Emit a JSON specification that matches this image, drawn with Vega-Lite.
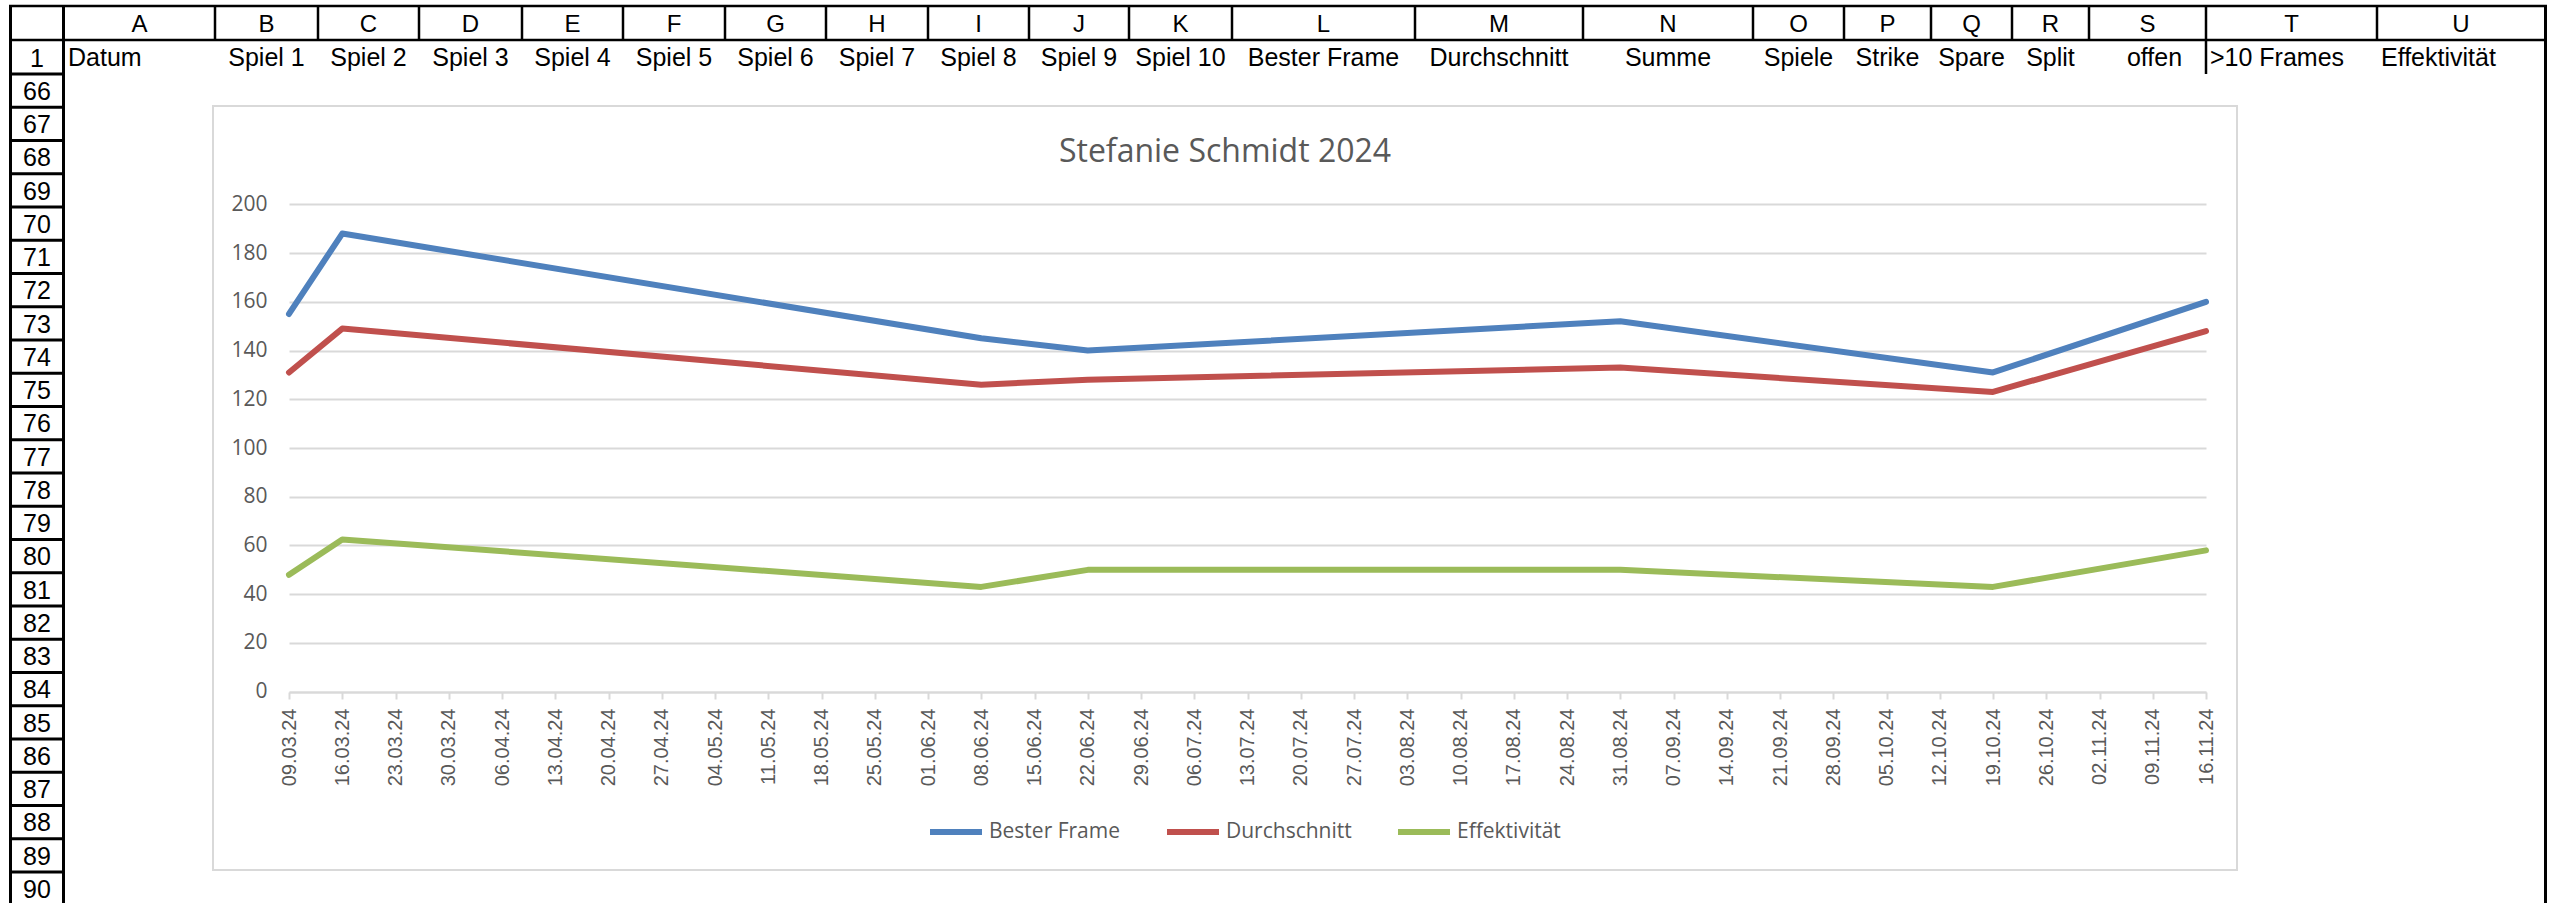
{
  "$schema": "https://vega.github.io/schema/vega-lite/v6.json",
  "width": 2565,
  "height": 903,
  "autosize": {"type": "none"},
  "padding": 0,
  "background": "white",
  "config": {"view": {"stroke": null}},
  "datasets": {
    "frame": [
      {"x0": 10.5, "x1": 10.5, "y0": 5, "y1": 903},
      {"x0": 63.5, "x1": 63.5, "y0": 5, "y1": 903},
      {"x0": 2545.5, "x1": 2545.5, "y0": 5, "y1": 903},
      {"x0": 9, "x1": 65, "y0": 74, "y1": 74},
      {"x0": 9, "x1": 65, "y0": 107.25, "y1": 107.25},
      {"x0": 9, "x1": 65, "y0": 140.5, "y1": 140.5},
      {"x0": 9, "x1": 65, "y0": 173.75, "y1": 173.75},
      {"x0": 9, "x1": 65, "y0": 207, "y1": 207},
      {"x0": 9, "x1": 65, "y0": 240.25, "y1": 240.25},
      {"x0": 9, "x1": 65, "y0": 273.5, "y1": 273.5},
      {"x0": 9, "x1": 65, "y0": 306.75, "y1": 306.75},
      {"x0": 9, "x1": 65, "y0": 340, "y1": 340},
      {"x0": 9, "x1": 65, "y0": 373.25, "y1": 373.25},
      {"x0": 9, "x1": 65, "y0": 406.5, "y1": 406.5},
      {"x0": 9, "x1": 65, "y0": 439.75, "y1": 439.75},
      {"x0": 9, "x1": 65, "y0": 473, "y1": 473},
      {"x0": 9, "x1": 65, "y0": 506.25, "y1": 506.25},
      {"x0": 9, "x1": 65, "y0": 539.5, "y1": 539.5},
      {"x0": 9, "x1": 65, "y0": 572.75, "y1": 572.75},
      {"x0": 9, "x1": 65, "y0": 606, "y1": 606},
      {"x0": 9, "x1": 65, "y0": 639.25, "y1": 639.25},
      {"x0": 9, "x1": 65, "y0": 672.5, "y1": 672.5},
      {"x0": 9, "x1": 65, "y0": 705.75, "y1": 705.75},
      {"x0": 9, "x1": 65, "y0": 739, "y1": 739},
      {"x0": 9, "x1": 65, "y0": 772.25, "y1": 772.25},
      {"x0": 9, "x1": 65, "y0": 805.5, "y1": 805.5},
      {"x0": 9, "x1": 65, "y0": 838.75, "y1": 838.75},
      {"x0": 9, "x1": 65, "y0": 872, "y1": 872}
    ],
    "cellLines": [
      {"x0": 9, "x1": 2547, "y0": 6, "y1": 6},
      {"x0": 9, "x1": 2547, "y0": 40, "y1": 40},
      {"x0": 215, "x1": 215, "y0": 5, "y1": 40},
      {"x0": 318, "x1": 318, "y0": 5, "y1": 40},
      {"x0": 419, "x1": 419, "y0": 5, "y1": 40},
      {"x0": 522, "x1": 522, "y0": 5, "y1": 40},
      {"x0": 623, "x1": 623, "y0": 5, "y1": 40},
      {"x0": 725, "x1": 725, "y0": 5, "y1": 40},
      {"x0": 826, "x1": 826, "y0": 5, "y1": 40},
      {"x0": 928, "x1": 928, "y0": 5, "y1": 40},
      {"x0": 1029, "x1": 1029, "y0": 5, "y1": 40},
      {"x0": 1129, "x1": 1129, "y0": 5, "y1": 40},
      {"x0": 1232, "x1": 1232, "y0": 5, "y1": 40},
      {"x0": 1415, "x1": 1415, "y0": 5, "y1": 40},
      {"x0": 1583, "x1": 1583, "y0": 5, "y1": 40},
      {"x0": 1753, "x1": 1753, "y0": 5, "y1": 40},
      {"x0": 1844, "x1": 1844, "y0": 5, "y1": 40},
      {"x0": 1931, "x1": 1931, "y0": 5, "y1": 40},
      {"x0": 2012, "x1": 2012, "y0": 5, "y1": 40},
      {"x0": 2089, "x1": 2089, "y0": 5, "y1": 40},
      {"x0": 2206, "x1": 2206, "y0": 5, "y1": 74},
      {"x0": 2377, "x1": 2377, "y0": 5, "y1": 40}
    ],
    "letters": [
      {"t": "A", "x0": 64, "x1": 215, "y0": 5, "y1": 40},
      {"t": "B", "x0": 215, "x1": 318, "y0": 5, "y1": 40},
      {"t": "C", "x0": 318, "x1": 419, "y0": 5, "y1": 40},
      {"t": "D", "x0": 419, "x1": 522, "y0": 5, "y1": 40},
      {"t": "E", "x0": 522, "x1": 623, "y0": 5, "y1": 40},
      {"t": "F", "x0": 623, "x1": 725, "y0": 5, "y1": 40},
      {"t": "G", "x0": 725, "x1": 826, "y0": 5, "y1": 40},
      {"t": "H", "x0": 826, "x1": 928, "y0": 5, "y1": 40},
      {"t": "I", "x0": 928, "x1": 1029, "y0": 5, "y1": 40},
      {"t": "J", "x0": 1029, "x1": 1129, "y0": 5, "y1": 40},
      {"t": "K", "x0": 1129, "x1": 1232, "y0": 5, "y1": 40},
      {"t": "L", "x0": 1232, "x1": 1415, "y0": 5, "y1": 40},
      {"t": "M", "x0": 1415, "x1": 1583, "y0": 5, "y1": 40},
      {"t": "N", "x0": 1583, "x1": 1753, "y0": 5, "y1": 40},
      {"t": "O", "x0": 1753, "x1": 1844, "y0": 5, "y1": 40},
      {"t": "P", "x0": 1844, "x1": 1931, "y0": 5, "y1": 40},
      {"t": "Q", "x0": 1931, "x1": 2012, "y0": 5, "y1": 40},
      {"t": "R", "x0": 2012, "x1": 2089, "y0": 5, "y1": 40},
      {"t": "S", "x0": 2089, "x1": 2206, "y0": 5, "y1": 40},
      {"t": "T", "x0": 2206, "x1": 2377, "y0": 5, "y1": 40},
      {"t": "U", "x0": 2377, "x1": 2545, "y0": 5, "y1": 40}
    ],
    "heads": [
      {"t": "Datum", "x0": 64, "x1": 215, "y0": 40, "y1": 74},
      {"t": "Spiel 1", "x0": 215, "x1": 318, "y0": 40, "y1": 74},
      {"t": "Spiel 2", "x0": 318, "x1": 419, "y0": 40, "y1": 74},
      {"t": "Spiel 3", "x0": 419, "x1": 522, "y0": 40, "y1": 74},
      {"t": "Spiel 4", "x0": 522, "x1": 623, "y0": 40, "y1": 74},
      {"t": "Spiel 5", "x0": 623, "x1": 725, "y0": 40, "y1": 74},
      {"t": "Spiel 6", "x0": 725, "x1": 826, "y0": 40, "y1": 74},
      {"t": "Spiel 7", "x0": 826, "x1": 928, "y0": 40, "y1": 74},
      {"t": "Spiel 8", "x0": 928, "x1": 1029, "y0": 40, "y1": 74},
      {"t": "Spiel 9", "x0": 1029, "x1": 1129, "y0": 40, "y1": 74},
      {"t": "Spiel 10", "x0": 1129, "x1": 1232, "y0": 40, "y1": 74},
      {"t": "Bester Frame", "x0": 1232, "x1": 1415, "y0": 40, "y1": 74},
      {"t": "Durchschnitt", "x0": 1415, "x1": 1583, "y0": 40, "y1": 74},
      {"t": "Summe", "x0": 1583, "x1": 1753, "y0": 40, "y1": 74},
      {"t": "Spiele", "x0": 1753, "x1": 1844, "y0": 40, "y1": 74},
      {"t": "Strike", "x0": 1844, "x1": 1931, "y0": 40, "y1": 74},
      {"t": "Spare", "x0": 1931, "x1": 2012, "y0": 40, "y1": 74},
      {"t": "Split", "x0": 2012, "x1": 2089, "y0": 40, "y1": 74},
      {"t": "offen", "x0": 2089, "x1": 2220, "y0": 40, "y1": 74},
      {"t": ">10 Frames", "x0": 2206, "x1": 2377, "y0": 40, "y1": 74},
      {"t": "Effektivität", "x0": 2377, "x1": 2545, "y0": 40, "y1": 74}
    ],
    "rownums": [
      {"t": "1", "x0": 9, "x1": 65, "y0": 40, "y1": 74},
      {"t": "66", "x0": 9, "x1": 65, "y0": 74, "y1": 107.25},
      {"t": "67", "x0": 9, "x1": 65, "y0": 107.25, "y1": 140.5},
      {"t": "68", "x0": 9, "x1": 65, "y0": 140.5, "y1": 173.75},
      {"t": "69", "x0": 9, "x1": 65, "y0": 173.75, "y1": 207},
      {"t": "70", "x0": 9, "x1": 65, "y0": 207, "y1": 240.25},
      {"t": "71", "x0": 9, "x1": 65, "y0": 240.25, "y1": 273.5},
      {"t": "72", "x0": 9, "x1": 65, "y0": 273.5, "y1": 306.75},
      {"t": "73", "x0": 9, "x1": 65, "y0": 306.75, "y1": 340},
      {"t": "74", "x0": 9, "x1": 65, "y0": 340, "y1": 373.25},
      {"t": "75", "x0": 9, "x1": 65, "y0": 373.25, "y1": 406.5},
      {"t": "76", "x0": 9, "x1": 65, "y0": 406.5, "y1": 439.75},
      {"t": "77", "x0": 9, "x1": 65, "y0": 439.75, "y1": 473},
      {"t": "78", "x0": 9, "x1": 65, "y0": 473, "y1": 506.25},
      {"t": "79", "x0": 9, "x1": 65, "y0": 506.25, "y1": 539.5},
      {"t": "80", "x0": 9, "x1": 65, "y0": 539.5, "y1": 572.75},
      {"t": "81", "x0": 9, "x1": 65, "y0": 572.75, "y1": 606},
      {"t": "82", "x0": 9, "x1": 65, "y0": 606, "y1": 639.25},
      {"t": "83", "x0": 9, "x1": 65, "y0": 639.25, "y1": 672.5},
      {"t": "84", "x0": 9, "x1": 65, "y0": 672.5, "y1": 705.75},
      {"t": "85", "x0": 9, "x1": 65, "y0": 705.75, "y1": 739},
      {"t": "86", "x0": 9, "x1": 65, "y0": 739, "y1": 772.25},
      {"t": "87", "x0": 9, "x1": 65, "y0": 772.25, "y1": 805.5},
      {"t": "88", "x0": 9, "x1": 65, "y0": 805.5, "y1": 838.75},
      {"t": "89", "x0": 9, "x1": 65, "y0": 838.75, "y1": 872},
      {"t": "90", "x0": 9, "x1": 65, "y0": 872, "y1": 905.25}
    ],
    "box": [
      {"t": "Stefanie Schmidt 2024", "x0": 213, "x1": 2237, "y0": 106, "y1": 870}
    ],
    "series": [
      {"d": "2024-03-09", "s": "Bester Frame", "v": 155},
      {"d": "2024-03-16", "s": "Bester Frame", "v": 188},
      {"d": "2024-06-08", "s": "Bester Frame", "v": 145},
      {"d": "2024-06-22", "s": "Bester Frame", "v": 140},
      {"d": "2024-08-31", "s": "Bester Frame", "v": 152},
      {"d": "2024-10-19", "s": "Bester Frame", "v": 131},
      {"d": "2024-11-16", "s": "Bester Frame", "v": 160},
      {"d": "2024-03-09", "s": "Durchschnitt", "v": 131},
      {"d": "2024-03-16", "s": "Durchschnitt", "v": 149},
      {"d": "2024-06-08", "s": "Durchschnitt", "v": 126},
      {"d": "2024-06-22", "s": "Durchschnitt", "v": 128},
      {"d": "2024-08-31", "s": "Durchschnitt", "v": 133},
      {"d": "2024-10-19", "s": "Durchschnitt", "v": 123},
      {"d": "2024-11-16", "s": "Durchschnitt", "v": 148},
      {"d": "2024-03-09", "s": "Effektivität", "v": 48},
      {"d": "2024-03-16", "s": "Effektivität", "v": 62.5},
      {"d": "2024-06-08", "s": "Effektivität", "v": 43},
      {"d": "2024-06-22", "s": "Effektivität", "v": 50},
      {"d": "2024-08-31", "s": "Effektivität", "v": 50},
      {"d": "2024-10-19", "s": "Effektivität", "v": 43},
      {"d": "2024-11-16", "s": "Effektivität", "v": 58}
    ]
  },
  "layer": [
    {
      "layer": [
        {
          "data": {"name": "frame"},
          "mark": {"type": "rule", "color": "black", "strokeWidth": 3},
          "encoding": {
            "x": {"field": "x0", "type": "quantitative", "scale": {"domain": [0, 2565], "range": [0, 2565], "nice": false, "zero": false}, "axis": null},
            "x2": {"field": "x1"},
            "y": {"field": "y0", "type": "quantitative", "scale": {"domain": [0, 903], "range": [0, 903], "nice": false, "zero": false}, "axis": null},
            "y2": {"field": "y1"}
          }
        },
        {
          "data": {"name": "cellLines"},
          "mark": {"type": "rule", "color": "black", "strokeWidth": 2.5},
          "encoding": {
            "x": {"field": "x0", "type": "quantitative", "axis": null},
            "x2": {"field": "x1"},
            "y": {"field": "y0", "type": "quantitative", "axis": null},
            "y2": {"field": "y1"}
          }
        },
        {
          "data": {"name": "box"},
          "mark": {"type": "rect", "fill": "white", "fillOpacity": 0, "stroke": "#d9d9d9", "strokeWidth": 2},
          "encoding": {
            "x": {"field": "x0", "type": "quantitative", "axis": null},
            "x2": {"field": "x1"},
            "y": {"field": "y0", "type": "quantitative", "axis": null},
            "y2": {"field": "y1"}
          }
        },
        {
          "data": {"name": "box"},
          "transform": [{"calculate": "(datum.x0 + datum.x1) / 2", "as": "cx"}],
          "mark": {"type": "text", "font": "Open Sans", "fontSize": 32, "color": "#595959", "align": "center", "baseline": "alphabetic", "dy": 56},
          "encoding": {
            "x": {"field": "cx", "type": "quantitative", "axis": null},
            "y": {"field": "y0", "type": "quantitative", "axis": null},
            "text": {"field": "t"}
          }
        },
        {
          "data": {"name": "letters"},
          "transform": [{"calculate": "(datum.x0 + datum.x1) / 2", "as": "cx"}],
          "mark": {"type": "text", "font": "Liberation Sans", "fontSize": 24, "color": "black", "align": "center", "baseline": "alphabetic", "dy": -8},
          "encoding": {
            "x": {"field": "cx", "type": "quantitative", "axis": null},
            "y": {"field": "y1", "type": "quantitative", "axis": null},
            "text": {"field": "t"}
          }
        },
        {
          "data": {"name": "heads"},
          "transform": [
            {"filter": "datum.t !== 'Datum' && datum.t !== '>10 Frames' && datum.t !== 'Effektivität'"},
            {"calculate": "(datum.x0 + datum.x1) / 2", "as": "cx"}
          ],
          "mark": {"type": "text", "font": "Liberation Sans", "fontSize": 25, "color": "black", "align": "center", "baseline": "alphabetic", "dy": -8},
          "encoding": {
            "x": {"field": "cx", "type": "quantitative", "axis": null},
            "y": {"field": "y1", "type": "quantitative", "axis": null},
            "text": {"field": "t"}
          }
        },
        {
          "data": {"name": "heads"},
          "transform": [
            {"filter": "datum.t === 'Datum' || datum.t === '>10 Frames' || datum.t === 'Effektivität'"}
          ],
          "mark": {"type": "text", "font": "Liberation Sans", "fontSize": 25, "color": "black", "align": "left", "baseline": "alphabetic", "dx": 4, "dy": -8},
          "encoding": {
            "x": {"field": "x0", "type": "quantitative", "axis": null},
            "y": {"field": "y1", "type": "quantitative", "axis": null},
            "text": {"field": "t"}
          }
        },
        {
          "data": {"name": "rownums"},
          "transform": [{"calculate": "(datum.x0 + datum.x1) / 2", "as": "cx"}],
          "mark": {"type": "text", "font": "Liberation Sans", "fontSize": 25, "color": "black", "align": "center", "baseline": "alphabetic", "dy": -7.5},
          "encoding": {
            "x": {"field": "cx", "type": "quantitative", "axis": null},
            "y": {"field": "y1", "type": "quantitative", "axis": null},
            "text": {"field": "t"}
          }
        }
      ]
    },
    {
      "data": {"name": "series"},
      "mark": {"type": "line", "strokeWidth": 6, "strokeCap": "round", "strokeJoin": "round"},
      "encoding": {
        "x": {
          "field": "d",
          "type": "temporal",
          "scale": {
            "type": "utc",
            "domain": [{"year": 2024, "month": 3, "date": 9, "utc": true}, {"year": 2024, "month": 11, "date": 16, "utc": true}],
            "range": [289, 2206],
            "nice": false
          },
          "axis": {
            "orient": "bottom",
            "offset": -211,
            "title": null,
            "grid": false,
            "values": [
              {"year": 2024, "month": 3, "date": 9, "utc": true},
              {"year": 2024, "month": 3, "date": 16, "utc": true},
              {"year": 2024, "month": 3, "date": 23, "utc": true},
              {"year": 2024, "month": 3, "date": 30, "utc": true},
              {"year": 2024, "month": 4, "date": 6, "utc": true},
              {"year": 2024, "month": 4, "date": 13, "utc": true},
              {"year": 2024, "month": 4, "date": 20, "utc": true},
              {"year": 2024, "month": 4, "date": 27, "utc": true},
              {"year": 2024, "month": 5, "date": 4, "utc": true},
              {"year": 2024, "month": 5, "date": 11, "utc": true},
              {"year": 2024, "month": 5, "date": 18, "utc": true},
              {"year": 2024, "month": 5, "date": 25, "utc": true},
              {"year": 2024, "month": 6, "date": 1, "utc": true},
              {"year": 2024, "month": 6, "date": 8, "utc": true},
              {"year": 2024, "month": 6, "date": 15, "utc": true},
              {"year": 2024, "month": 6, "date": 22, "utc": true},
              {"year": 2024, "month": 6, "date": 29, "utc": true},
              {"year": 2024, "month": 7, "date": 6, "utc": true},
              {"year": 2024, "month": 7, "date": 13, "utc": true},
              {"year": 2024, "month": 7, "date": 20, "utc": true},
              {"year": 2024, "month": 7, "date": 27, "utc": true},
              {"year": 2024, "month": 8, "date": 3, "utc": true},
              {"year": 2024, "month": 8, "date": 10, "utc": true},
              {"year": 2024, "month": 8, "date": 17, "utc": true},
              {"year": 2024, "month": 8, "date": 24, "utc": true},
              {"year": 2024, "month": 8, "date": 31, "utc": true},
              {"year": 2024, "month": 9, "date": 7, "utc": true},
              {"year": 2024, "month": 9, "date": 14, "utc": true},
              {"year": 2024, "month": 9, "date": 21, "utc": true},
              {"year": 2024, "month": 9, "date": 28, "utc": true},
              {"year": 2024, "month": 10, "date": 5, "utc": true},
              {"year": 2024, "month": 10, "date": 12, "utc": true},
              {"year": 2024, "month": 10, "date": 19, "utc": true},
              {"year": 2024, "month": 10, "date": 26, "utc": true},
              {"year": 2024, "month": 11, "date": 2, "utc": true},
              {"year": 2024, "month": 11, "date": 9, "utc": true},
              {"year": 2024, "month": 11, "date": 16, "utc": true}
            ],
            "labelExpr": "utcFormat(datum.value, '%d.%m.%y')",
            "labelAngle": 270,
            "labelAlign": "right",
            "labelBaseline": "middle",
            "labelOverlap": false,
            "labelFlush": false,
            "labelBound": false,
            "labelFont": "Liberation Sans",
            "labelFontSize": 20,
            "labelColor": "#595959",
            "labelPadding": 9,
            "domainColor": "#d9d9d9",
            "domainWidth": 2,
            "tickColor": "#d9d9d9",
            "tickWidth": 2,
            "tickSize": 7
          }
        },
        "y": {
          "field": "v",
          "type": "quantitative",
          "scale": {"domain": [0, 200], "range": [691.7, 204.3], "nice": false, "zero": false},
          "axis": {
            "orient": "left",
            "offset": -289,
            "title": null,
            "values": [0, 20, 40, 60, 80, 100, 120, 140, 160, 180, 200],
            "domain": false,
            "ticks": false,
            "tickSize": 0,
            "labelPadding": 22,
            "grid": true,
            "gridColor": "#d9d9d9",
            "gridWidth": 2,
            "labelFont": "Open Sans",
            "labelFontSize": 21,
            "labelColor": "#595959"
          }
        },
        "color": {
          "field": "s",
          "type": "nominal",
          "scale": {"domain": ["Bester Frame", "Durchschnitt", "Effektivität"], "range": ["#4f81bd", "#c0504d", "#9bbb59"]},
          "legend": {
            "orient": "none",
            "legendX": 927,
            "legendY": 803,
            "direction": "horizontal",
            "title": null,
            "symbolType": "stroke",
            "symbolStrokeWidth": 6,
            "symbolSize": 2704,
            "labelFont": "Open Sans",
            "labelFontSize": 21,
            "labelColor": "#595959",
            "labelOffset": 4,
            "columnPadding": 34,
            "padding": 0
          }
        }
      }
    }
  ],
  "resolve": {
    "scale": {"x": "independent", "y": "independent"},
    "axis": {"x": "independent", "y": "independent"}
  }
}
